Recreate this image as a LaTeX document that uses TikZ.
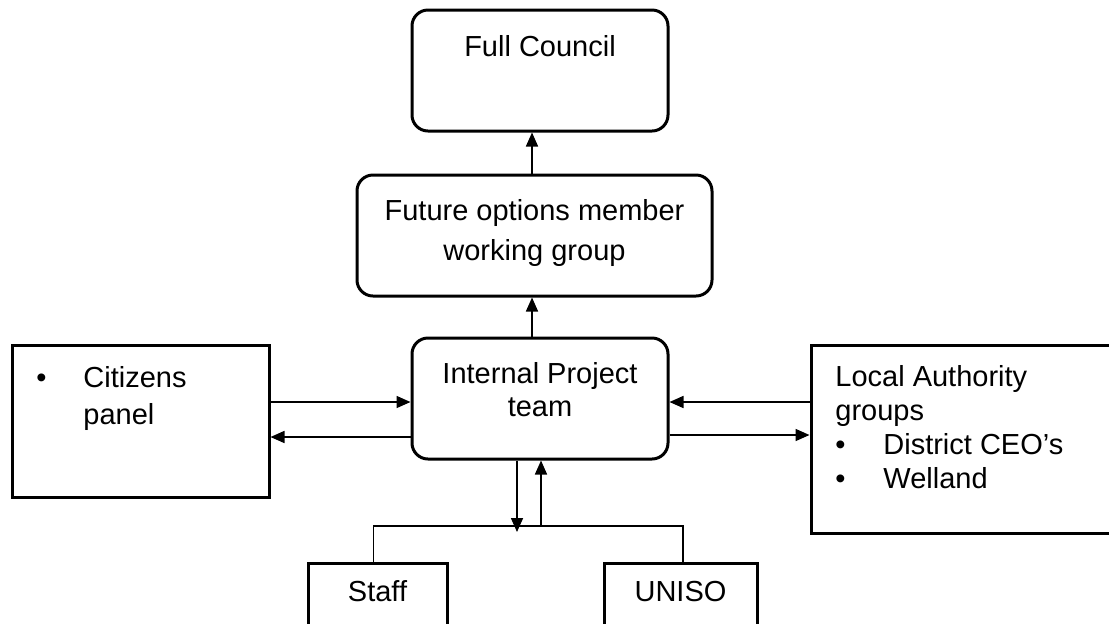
\documentclass[tikz,border=0pt]{standalone}
\usepackage{fontspec}
\setmainfont{Liberation Sans}
\usetikzlibrary{arrows.meta}

\tikzset{
  >={Triangle[length=7pt,width=6pt]},
  rbox/.style={draw, line width=1.5pt, rounded corners=8pt, inner sep=0pt},
  sbox/.style={draw, line width=1.5pt, inner sep=0pt},
  txt/.style={inner sep=0pt, anchor=north, font=\fontsize{14.5}{20}\selectfont},
  link/.style={->, line width=0.8pt},
  wire/.style={line width=0.65pt},
}
\newcommand{\blt}{\makebox[23.5pt][l]{\textbullet}}

\begin{document}
\begin{tikzpicture}[x=0.5pt, y=-0.5pt]
  \useasboundingbox (0,0) rectangle (1109,623);
  \clip (0,0) rectangle (1109,623);

  % boxes
  \node[rbox, minimum width=128pt, minimum height=60.5pt] (fc) at (540,70.5) {};
  \node[rbox, minimum width=177.5pt, minimum height=60.5pt] (fo) at (534.5,235.5) {};
  \node[rbox, minimum width=128pt, minimum height=60.5pt] (ipt) at (540,398.5) {};
  \node[sbox, minimum width=128.5pt, minimum height=76pt] (cp) at (140.5,421) {};
  \node[sbox, minimum width=169.5pt, minimum height=94pt] (la) at (980.5,439) {};
  \node[sbox, minimum width=69.5pt, minimum height=48.5pt] (staff) at (377.5,611.5) {};
  \node[sbox, minimum width=76.5pt, minimum height=48.5pt] (uniso) at (680.5,611.5) {};

  % texts
  \node[txt] (fct) at (540,35) {Full Council};
  \node[txt, align=center] (fot) at (534.5,199) {Future options member\\working group};
  \node[txt, align=center, font=\fontsize{14.5}{16.5}\selectfont] (iptt) at (540,362) {Internal Project\\team};
  \node[txt, anchor=north west, align=left, font=\fontsize{14.5}{18.5}\selectfont] (cpt) at (36,366)
    {\blt Citizens\\\hspace*{23.5pt}panel};
  \node[txt, anchor=north west, align=left, font=\fontsize{14.5}{17}\selectfont] (lat) at (835,365)
    {Local Authority\\groups\\\makebox[24pt][l]{\textbullet}District CEO’s\\\makebox[24pt][l]{\textbullet}Welland};
  \node[txt, anchor=base] (stafft) at (377.5,601) {Staff};
  \node[txt, anchor=base] (unisot) at (680.5,601) {UNISO};

  % links
  \draw[link] ([xshift=-4pt]ipt.north) -- ([xshift=-4pt]ipt.north |- fo.south);
  \draw[link] ([xshift=-4pt]fc.south |- fo.north) -- ([xshift=-4pt]fc.south);
  \draw[link] ([yshift=9.5pt]cp.east) -- ([yshift=9.5pt]cp.east -| ipt.west);
  \draw[link] ([yshift=-8pt]cp.east -| ipt.west) -- ([yshift=-8pt]cp.east);
  \draw[link] ([yshift=18.5pt]la.west) -- ([yshift=18.5pt]la.west -| ipt.east);
  \draw[link] ([yshift=2pt]la.west -| ipt.east) -- ([yshift=2pt]la.west);

  \coordinate (bus) at (529,526);
  \draw[wire] ([xshift=-2pt]staff.north) |- (bus) -| ([xshift=1.25pt]uniso.north);
  \draw[link] ([xshift=-11.5pt]ipt.south) -- ([xshift=-11.5pt,yshift=-3pt]ipt.south |- bus);
  \draw[link] ([xshift=0.5pt]ipt.south |- bus) -- ([xshift=0.5pt]ipt.south);
\end{tikzpicture}
\end{document}
